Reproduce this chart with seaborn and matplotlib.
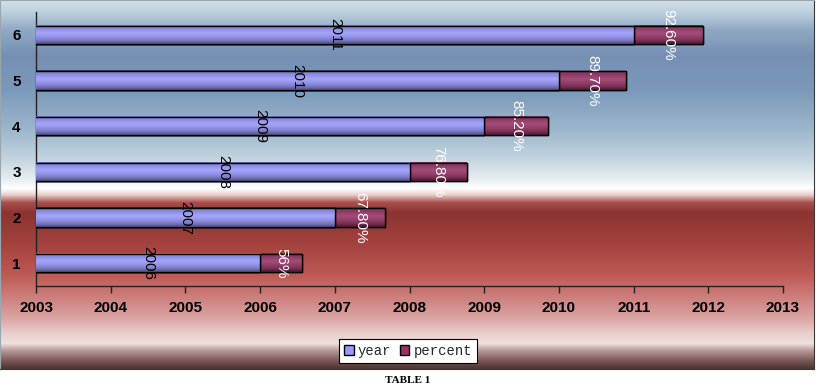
import numpy as np
import pandas as pd
import matplotlib
matplotlib.use('Agg')
import matplotlib.pyplot as plt
import seaborn as sns
from matplotlib.colors import to_rgb
from matplotlib.patches import Rectangle

# data
rows = [1, 2, 3, 4, 5, 6]
years = [2006, 2007, 2008, 2009, 2010, 2011]
percent = [0.56, 0.678, 0.768, 0.852, 0.897, 0.926]
percent_labels = ['56%', '67.80%', '76.80%', '85.20%', '89.70%', '92.60%']
x_ticks = list(range(2003, 2014))

df = pd.DataFrame({'row': rows, 'year': years, 'percent': percent})
df['total'] = df['year'] + df['percent']

sns.set_style('white')
plt.rcParams['font.family'] = ['Liberation Sans', 'DejaVu Sans']

fig = plt.figure(figsize=(8.16, 3.86), dpi=100)

# gradient background of the chart frame (excel style fill)
stops = [(0, '#d4e0e8'), (12, '#bccfdc'), (30, '#8ea8c4'), (55, '#7690b4'),
         (90, '#7b99bb'), (130, '#9db7cc'), (160, '#c6d6e0'), (180, '#eaf0f3'),
         (188, '#ffffff'), (194, '#ecd2cf'), (202, '#a9504d'), (212, '#8b3431'),
         (245, '#a5433f'), (275, '#bf5a55'), (300, '#cf8583'), (320, '#dcaaa8'),
         (332, '#e8cdca'), (343, '#efe0dd'), (350, '#b89a98'), (360, '#7a5856'),
         (368, '#4e3432')]
pos = np.array([s[0] for s in stops], dtype=float)
cols = np.array([to_rgb(s[1]) for s in stops])
yy = np.arange(369)
grad = np.stack([np.interp(yy, pos, cols[:, k]) for k in range(3)], axis=-1)

bg = fig.add_axes([0, 17 / 386, 814 / 816, 369 / 386])
bg.imshow(grad[:, None, :], aspect='auto', extent=[0, 1, 0, 1], interpolation='bilinear')
bg.set_xticks([])
bg.set_yticks([])
for s in ['left', 'right', 'bottom']:
    bg.spines[s].set_color('#3a3a3a')
bg.spines['left'].set_color('#9aa6b0')
bg.spines['top'].set_color('#9aa6b0')

ax = fig.add_axes([36 / 816, 100 / 386, (783 - 36) / 816, (286 - 12) / 386])
ax.set_facecolor('none')

# stacked: total bar behind, year bar in front
sns.barplot(data=df, x='total', y='row', orient='h', native_scale=True, width=0.4,
            color='#993366', saturation=1, errorbar=None, edgecolor='black',
            linewidth=1, zorder=2, label='percent', ax=ax)
sns.barplot(data=df, x='year', y='row', orient='h', native_scale=True, width=0.4,
            color='#9999ff', saturation=1, errorbar=None, edgecolor='black',
            linewidth=1, zorder=3, label='year', ax=ax)

xmin, xmax = 2003, 2013

# cylinder-ish shading on each bar (only the visible part)
t = np.linspace(0, 1, 40)
light = np.clip(1 - np.abs(t - 0.42) / 0.5, 0, 1)
for p in list(ax.patches):
    base = np.array(p.get_facecolor()[:3])
    dark = base * 0.6
    hi = base + (1 - base) * 0.12
    shade = dark[None, :] + (hi - dark)[None, :] * (light[:, None] ** 0.6)
    x0, y0, w, h = p.get_x(), p.get_y(), p.get_width(), p.get_height()
    z = p.get_zorder()
    left = max(x0, xmin)
    ax.imshow(shade[:, None, :], extent=[left, x0 + w, y0, y0 + h], aspect='auto',
              origin='upper', interpolation='bilinear', zorder=z + 0.1)
    ax.add_patch(Rectangle((x0, y0), w, h, fill=False, edgecolor='black', lw=1, zorder=z + 0.2))

for r, yr, pc, lab in zip(rows, years, percent, percent_labels):
    ax.text((xmin + yr) / 2, r, str(yr), rotation=270, ha='center', va='center',
            fontsize=11, color='black', zorder=6)
    ax.text(yr + pc / 2, r, lab, rotation=270, ha='center', va='center',
            fontsize=11, color='white', zorder=6)

ax.set_xlim(xmin, xmax)
ax.set_ylim(0.5, 6.5)
ax.set_xticks(x_ticks)
ax.set_yticks(rows)
ax.set_xlabel('')
ax.set_ylabel('')
ax.tick_params(axis='x', length=5, width=1, color='#222222', pad=6, labelsize=11,
               labelcolor='black', bottom=True)
ax.tick_params(axis='y', length=0, pad=11, labelsize=11, labelcolor='black')
for lab in ax.get_xticklabels() + ax.get_yticklabels():
    lab.set_fontweight('bold')
ax.spines['top'].set_visible(False)
ax.spines['right'].set_visible(False)
for s in ['left', 'bottom']:
    ax.spines[s].set_color('#222222')
    ax.spines[s].set_linewidth(1)

handles, labels = ax.get_legend_handles_labels()
order = [labels.index('year'), labels.index('percent')]
leg = ax.legend([handles[i] for i in order], [labels[i] for i in order],
                loc='center', bbox_to_anchor=(408 / 816, 1 - 351 / 386),
                bbox_transform=fig.transFigure, ncol=2, frameon=True, fancybox=False,
                edgecolor='black', framealpha=1, prop={'family': 'Liberation Mono', 'size': 10},
                handlelength=0.7, handleheight=0.7, handletextpad=0.3, columnspacing=0.6,
                borderpad=0.35)
leg.get_frame().set_linewidth(0.8)

fig.text(408 / 816, 1 - 385 / 386, 'TABLE 1', ha='center', va='bottom',
         family='Liberation Serif', weight='bold', fontsize=8, color='black')

fig.savefig('out.png', dpi=100)
